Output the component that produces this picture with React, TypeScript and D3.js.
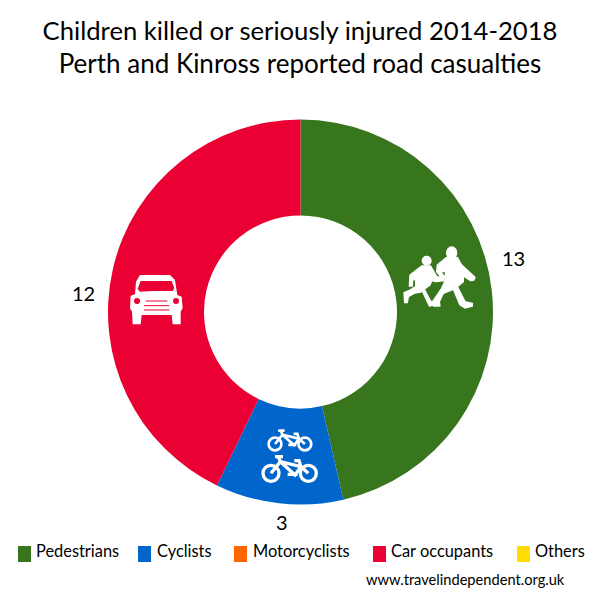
import React from "react";
import * as d3 from "d3";

const titleLines = ["Children killed or seriously injured 2014-2018", "Perth and Kinross reported road casualties"];
const titleSizes = [25.65, 26];
const categories = ["Pedestrians", "Cyclists", "Motorcyclists", "Car occupants", "Others"];
const values = [13, 3, 0, 12, 0];
const colors = ["#38761d", "#0066cc", "#ff6600", "#ea0033", "#ffdd00"];
const legendSwatchX = [18, 138, 234, 373, 517];
const legendTextX = [36, 157, 253, 391, 535];
const credit = "www.travelindependent.org.uk";

const FONT = "Lato, 'Open Sans', sans-serif";
const cx = 300.5, cy = 312, R = 192.5, r = 96.5;

const big = "M140,52L172,52L185,75L225,112L222,120L212,122L190,108L190,125L172,140L195,185L217,190L217,198L195,204L180,195L160,148L130,160L118,185L120,198L100,198L98,185L125,145L135,122L137,95L122,95L135,112L128,118L110,95L112,75Z";
const small = "M65,78L92,78L110,110L130,112L133,122L108,125L95,122L90,135L73,148L90,180L100,195L88,198L68,155L42,160L25,170L22,188L14,188L12,158L30,150L47,140L47,118L38,120L37,138L28,138L30,105Z";
const carBody = "M60,30L150,30L165,45L172,90L185,95L188,130L182,140L182,178L158,178L155,150L65,150L62,178L38,178L36,140L30,130L32,92L45,88L48,50Z";
const carGlass = "M62,48L155,48L163,70L158,78L100,78L60,80L53,72Z";

function Bike({ x, y, s }: { x: number; y: number; s: number }) {
  return (
    <g transform={`translate(${x},${y}) scale(${s})`} fill="none" stroke="#fff" strokeWidth={10}>
      <circle cx={0} cy={0} r={24} />
      <circle cx={112} cy={0} r={24} />
      <path d="M0,0L28,-35L90,-20L112,0M28,-35L72,5L90,-20M22,-50L28,-35M12,-50L36,-50M90,-20L84,-38L70,-38M50,3L80,3" />
    </g>
  );
}

export default function App() {
  const pie = d3.pie<number>().sort(null).value(d => d);
  const arc = d3.arc<d3.PieArcDatum<number>>().innerRadius(r).outerRadius(R);
  const arcs = pie(values);
  return (
    <svg width={600} height={600} style={{ position: "absolute", left: 0, top: 0 }} fontFamily={FONT} fill="#000">
      <rect width={600} height={600} fill="#fff" />
      {titleLines.map((t, i) => (
        <text key={t} x={300} y={40 + i * 33} textAnchor="middle" fontSize={titleSizes[i]}>{t}</text>
      ))}
      <g transform={`translate(${cx},${cy})`}>
        {arcs.map((a, i) => a.value > 0 && <path key={i} d={arc(a)!} fill={colors[i]} />)}
      </g>
      <g transform="translate(400,240) scale(0.3333)" fill="#fff" stroke="#fff" strokeWidth={4} strokeLinejoin="round">
        <ellipse cx={155} cy={38} rx={15} ry={17} />
        <circle cx={80} cy={62} r={13} />
        <path d={big} />
        <path d={small} />
      </g>
      <g transform="translate(120,265) scale(0.3333)">
        <path d={carBody} fill="#fff" />
        <path d={carGlass} fill={colors[3]} />
        <circle cx={51} cy={108} r={9} fill={colors[3]} />
        <circle cx={168} cy={108} r={9} fill={colors[3]} />
        <path d="M78,108H142M72,122H148M72,135H148" stroke={colors[3]} strokeWidth={3} />
      </g>
      <g transform="translate(260,425) scale(0.3333)">
        <Bike x={45} y={57} s={0.8} />
        <Bike x={33} y={145} s={1} />
      </g>
      <text x={502} y={266} fontSize={20}>13</text>
      <text x={72} y={301} fontSize={20}>12</text>
      <text x={276} y={530} fontSize={20}>3</text>
      {categories.map((c, i) => (
        <g key={c}>
          <rect x={legendSwatchX[i]} y={546} width={13} height={16} fill={colors[i]} />
          <text x={legendTextX[i]} y={557} fontSize={16.4}>{c}</text>
        </g>
      ))}
      <text x={366} y={585} fontSize={14.65}>{credit}</text>
    </svg>
  );
}
